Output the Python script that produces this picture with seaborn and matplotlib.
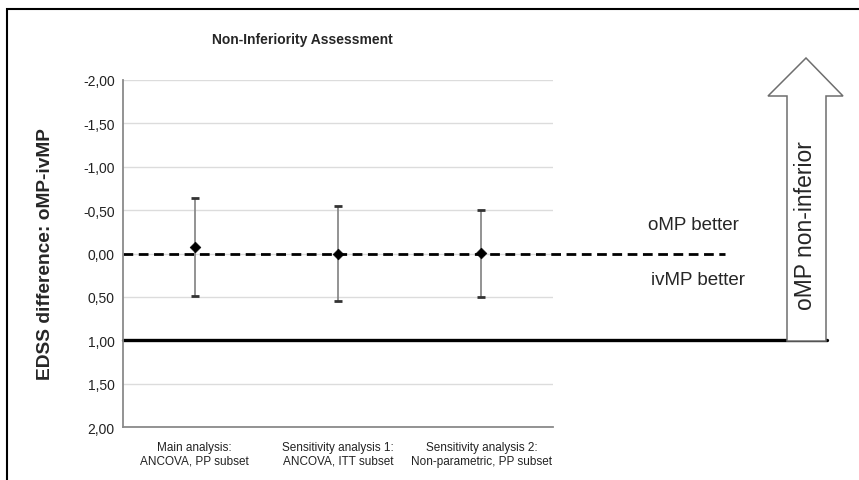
import numpy as np
import pandas as pd
import seaborn as sns
import matplotlib.pyplot as plt
from matplotlib.patches import Polygon, Rectangle
from matplotlib.ticker import FuncFormatter

# data
analyses = ["Main analysis:\nANCOVA, PP subset",
            "Sensitivity analysis 1:\nANCOVA, ITT subset",
            "Sensitivity analysis 2:\nNon-parametric, PP subset"]
estimate = [-0.07, 0.00, -0.01]
ci_low = [-0.64, -0.55, -0.50]
ci_high = [0.49, 0.55, 0.50]
margin = 1.00
y_ticks = [-2.0, -1.5, -1.0, -0.5, 0.0, 0.5, 1.0, 1.5, 2.0]

df = pd.DataFrame({"analysis": analyses, "est": estimate,
                   "lo": ci_low, "hi": ci_high})
df["x"] = np.arange(len(df))

sns.set_style("white")
plt.rcParams["font.family"] = ["Liberation Sans", "DejaVu Sans"]

W, H = 859, 481
fig = plt.figure(figsize=(W / 100, H / 100), dpi=100)
ax = fig.add_axes([123 / W, 1 - 428 / H, 430 / W, 347 / H])

# grid lines
for t in y_ticks:
    ax.axhline(t, color="#dcdcdc", lw=1, zorder=0)

# reference lines (extend to the right past the plot area)
ax.plot([-0.5, 3.70], [0, 0], color="black", lw=2, ls=(0, (3.5, 2)),
        clip_on=False, zorder=2)
ax.plot([-0.5, 4.41], [margin, margin], color="black", lw=2.4,
        clip_on=False, zorder=2)

# confidence intervals
ax.vlines(df["x"], df["lo"], df["hi"], color="#8a8a8a", lw=1.3, zorder=3)
ax.hlines(df["lo"], df["x"] - 0.028, df["x"] + 0.028, color="#333333", lw=2, zorder=3)
ax.hlines(df["hi"], df["x"] - 0.028, df["x"] + 0.028, color="#333333", lw=2, zorder=3)

sns.scatterplot(data=df, x="x", y="est", marker="D", s=30, color="black",
                edgecolor="black", ax=ax, zorder=4, legend=False)

ax.set_xlim(-0.5, 2.5)
ax.set_ylim(2.0, -2.0)
ax.set_yticks(y_ticks)
ax.yaxis.set_major_formatter(FuncFormatter(lambda v, p: f"{v:.2f}".replace(".", ",")))
ax.set_xticks(df["x"])
ax.set_xticklabels(df["analysis"], fontsize=8.5, color="#222222")
ax.set_xticks([0.5, 1.5, 2.5], minor=True)
ax.tick_params(axis="x", which="major", length=0, pad=10)
ax.tick_params(axis="x", which="minor", length=5, color="#808080", direction="in")
ax.tick_params(axis="y", length=5, color="#808080", direction="out", labelsize=10,
               labelcolor="#222222", pad=1)
ax.set_xlabel("")
ax.set_ylabel("EDSS difference: oMP-ivMP", fontsize=13.8, fontweight="bold", labelpad=21)
for s in ["top", "right"]:
    ax.spines[s].set_visible(False)
for s in ["left", "bottom"]:
    ax.spines[s].set_color("#8a8a8a")
    ax.spines[s].set_linewidth(1.3)

fig.text(302 / W, 1 - 40 / H, "Non-Inferiority Assessment", ha="center", va="center",
         fontsize=10, fontweight="bold")

ax.text(3.48, -0.34, "oMP better", ha="center", va="center", fontsize=13.5)
ax.text(3.51, 0.305, "ivMP better", ha="center", va="center", fontsize=13.5)


def px(x, y):
    return (x / W, 1 - y / H)


arrow = Polygon([px(787, 342), px(787, 97), px(768, 97), px(806, 59),
                 px(843, 97), px(826, 97), px(826, 342)],
                closed=True, facecolor="white", edgecolor="#6e6e6e", lw=1.1,
                transform=fig.transFigure, zorder=1)
fig.patches.append(arrow)
fig.text(806 / W, 1 - 226 / H, "oMP non-inferior", rotation=90, ha="center",
         va="center", fontsize=16.5)

frame = Rectangle((7 / W, -0.1), 1.2, 1.1 - 10 / H, fill=False, edgecolor="black",
                  lw=1.5, transform=fig.transFigure)
fig.patches.append(frame)

fig.savefig("out.png", dpi=100)
